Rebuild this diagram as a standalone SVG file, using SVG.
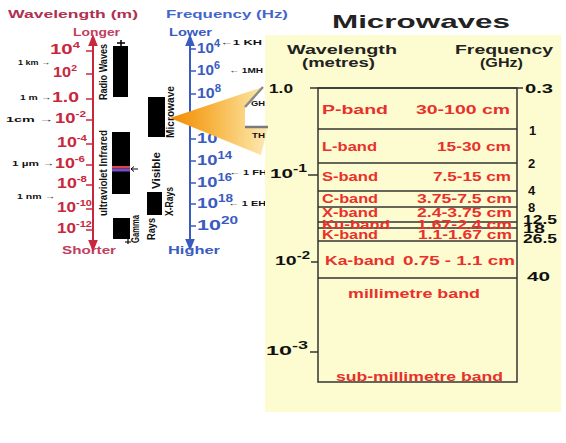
<svg xmlns="http://www.w3.org/2000/svg" width="566" height="443" viewBox="0 0 566 443">
<style>
text{font-family:"Liberation Sans",Arial,sans-serif;font-weight:bold}
.wr{fill:#c8283c;font-size:14px}
.wb{fill:#3a5bc0;font-size:14px}
.hd1{fill:#b03050;font-size:11px}
.hd2{fill:#c04060;font-size:10px}
.hb1{fill:#4466cc;font-size:11px}
.hb2{fill:#3a5bc0;font-size:10px}
.sm{fill:#111;font-size:8px}
.vt{fill:#111;font-size:10px}
.bd{fill:#e8302c;font-size:12px}
.blk{fill:#111;font-size:13px}
.hdr{fill:#222;font-size:12px}
.ax{stroke-width:2;fill:none}
.ln{stroke:#333;stroke-width:1.5;fill:none}
</style>
<defs>
<marker id="ar" viewBox="0 0 10 10" refX="5" refY="5" markerWidth="6" markerHeight="6" orient="auto-start-reverse"><path d="M0,1 L10,5 L0,9 z" fill="#c8283c"/></marker>
<marker id="ab" viewBox="0 0 10 10" refX="5" refY="5" markerWidth="6" markerHeight="6" orient="auto-start-reverse"><path d="M0,1 L10,5 L0,9 z" fill="#3a5bc0"/></marker>
<linearGradient id="cone" x1="0" y1="0" x2="1" y2="0">
<stop offset="0" stop-color="#f28a00"/>
<stop offset="0.4" stop-color="#f7b13c"/>
<stop offset="0.8" stop-color="#fbd98c"/>
<stop offset="1" stop-color="#fde9b8"/>
</linearGradient>
</defs>

<g id="wavelength-axis">
<text class="hd1" x="8" y="18" textLength="130" lengthAdjust="spacingAndGlyphs">Wavelength (m)</text>
<text class="hd2" x="73" y="36" textLength="47" lengthAdjust="spacingAndGlyphs">Longer</text>
<text class="hd2" x="62" y="254" textLength="54" lengthAdjust="spacingAndGlyphs">Shorter</text>
<line class="ax" x1="93" y1="246" x2="93" y2="40" stroke="#c8283c" marker-start="url(#ar)" marker-end="url(#ar)"/>
<g stroke="#c8283c" stroke-width="1.5">
<line x1="86" y1="51" x2="93" y2="51"/><line x1="86" y1="74" x2="93" y2="74"/><line x1="86" y1="99" x2="93" y2="99"/><line x1="86" y1="120" x2="93" y2="120"/><line x1="86" y1="144" x2="93" y2="144"/><line x1="86" y1="165" x2="93" y2="165"/><line x1="86" y1="185" x2="93" y2="185"/><line x1="86" y1="209" x2="93" y2="209"/><line x1="86" y1="230" x2="93" y2="230"/>
</g>
<text class="wr" x="50" y="54" textLength="30" lengthAdjust="spacingAndGlyphs">10<tspan dy="-6" font-size="9">4</tspan></text>
<text class="wr" x="53" y="77" textLength="24" lengthAdjust="spacingAndGlyphs">10<tspan dy="-6" font-size="9">2</tspan></text>
<text class="wr" x="52" y="102" textLength="27" lengthAdjust="spacingAndGlyphs">1.0</text>
<text class="wr" x="55" y="123" textLength="31" lengthAdjust="spacingAndGlyphs">10<tspan dy="-6" font-size="9">-2</tspan></text>
<text class="wr" x="57" y="147" textLength="30" lengthAdjust="spacingAndGlyphs">10<tspan dy="-6" font-size="9">-4</tspan></text>
<text class="wr" x="55" y="168" textLength="30" lengthAdjust="spacingAndGlyphs">10<tspan dy="-6" font-size="9">-6</tspan></text>
<text class="wr" x="57" y="188" textLength="30" lengthAdjust="spacingAndGlyphs">10<tspan dy="-6" font-size="9">-8</tspan></text>
<text class="wr" x="57" y="212" textLength="35" lengthAdjust="spacingAndGlyphs">10<tspan dy="-6" font-size="9">-10</tspan></text>
<text class="wr" x="57" y="233" textLength="35" lengthAdjust="spacingAndGlyphs">10<tspan dy="-6" font-size="9">-12</tspan></text>
<text class="sm" x="18" y="65" textLength="32" lengthAdjust="spacingAndGlyphs">1 km →</text>
<text class="sm" x="20" y="100" textLength="31" lengthAdjust="spacingAndGlyphs">1 m →</text>
<text class="sm" x="6" y="122" textLength="47" lengthAdjust="spacingAndGlyphs">1cm →</text>
<text class="sm" x="12" y="166" textLength="42" lengthAdjust="spacingAndGlyphs">1 µm →</text>
<text class="sm" x="17" y="199" textLength="38" lengthAdjust="spacingAndGlyphs">1 nm →</text>
</g>

<g id="spectrum-bands">
<rect x="113" y="46" width="15" height="51" fill="#000"/>
<path d="M121,40 V46 M117,43 H125" stroke="#000" stroke-width="1.5"/>
<text class="vt" transform="translate(107,100) rotate(-90)" textLength="56" lengthAdjust="spacingAndGlyphs">Radio Waves</text>
<rect x="112" y="132" width="18" height="62" fill="#000"/>
<rect x="112" y="166" width="18" height="2.5" fill="#e04050"/>
<rect x="112" y="168.5" width="18" height="3" fill="#7050c8"/>
<path d="M138,169 H131 M134,166.5 L131,169 L134,171.5" stroke="#000" stroke-width="1" fill="none"/>
<text class="vt" transform="translate(107,216) rotate(-90)" textLength="86" lengthAdjust="spacingAndGlyphs">ultraviolet Infrared</text>
<rect x="113" y="218" width="17" height="21" fill="#000"/>
<path d="M128,239 V244 M125,242 H131" stroke="#000" stroke-width="1.2"/>
<text class="vt" transform="translate(139,243) rotate(-90)" textLength="28" lengthAdjust="spacingAndGlyphs">Gamma</text>
<text class="vt" transform="translate(155,240) rotate(-90)" textLength="22" lengthAdjust="spacingAndGlyphs">Rays</text>
<rect x="148" y="97" width="17" height="40" fill="#000"/>
<text class="vt" transform="translate(174,138) rotate(-90)" textLength="52" lengthAdjust="spacingAndGlyphs">Microwave</text>
<text class="vt" transform="translate(160,189) rotate(-90)" textLength="37" lengthAdjust="spacingAndGlyphs">Visible</text>
<rect x="147" y="192" width="15" height="23" fill="#000"/>
<text class="vt" transform="translate(173,216) rotate(-90)" textLength="29" lengthAdjust="spacingAndGlyphs">X-Rays</text>
</g>

<g id="frequency-axis">
<text class="hb1" x="166" y="18" textLength="122" lengthAdjust="spacingAndGlyphs">Frequency (Hz)</text>
<text class="hb2" x="169" y="36" textLength="43" lengthAdjust="spacingAndGlyphs">Lower</text>
<text class="hb2" x="168" y="254" textLength="52" lengthAdjust="spacingAndGlyphs">Higher</text>
<line class="ax" x1="190" y1="40" x2="190" y2="245" stroke="#3a5bc0" marker-start="url(#ab)" marker-end="url(#ab)"/>
<g stroke="#3a5bc0" stroke-width="1.5">
<line x1="190" y1="49" x2="196" y2="49"/><line x1="190" y1="71" x2="196" y2="71"/><line x1="190" y1="94" x2="196" y2="94"/><line x1="190" y1="116" x2="196" y2="116"/><line x1="190" y1="139" x2="196" y2="139"/><line x1="190" y1="161" x2="196" y2="161"/><line x1="190" y1="183" x2="196" y2="183"/><line x1="190" y1="204" x2="196" y2="204"/><line x1="190" y1="226" x2="196" y2="226"/>
</g>
<text class="wb" x="197" y="53" textLength="23" lengthAdjust="spacingAndGlyphs">10<tspan dy="-6" font-size="10">4</tspan></text>
<text class="wb" x="197" y="75" textLength="23" lengthAdjust="spacingAndGlyphs">10<tspan dy="-6" font-size="10">6</tspan></text>
<text class="wb" x="197" y="98" textLength="24" lengthAdjust="spacingAndGlyphs">10<tspan dy="-6" font-size="10">8</tspan></text>
<text class="wb" x="197" y="120" textLength="35" lengthAdjust="spacingAndGlyphs">10<tspan dy="-6" font-size="10">10</tspan></text>
<text class="wb" x="197" y="143" textLength="35" lengthAdjust="spacingAndGlyphs">10<tspan dy="-6" font-size="10">12</tspan></text>
<text class="wb" x="197" y="165" textLength="35" lengthAdjust="spacingAndGlyphs">10<tspan dy="-6" font-size="10">14</tspan></text>
<text class="wb" x="197" y="187" textLength="35" lengthAdjust="spacingAndGlyphs">10<tspan dy="-6" font-size="10">16</tspan></text>
<text class="wb" x="197" y="208" textLength="36" lengthAdjust="spacingAndGlyphs">10<tspan dy="-6" font-size="10">18</tspan></text>
<text class="wb" x="197" y="230" textLength="41" lengthAdjust="spacingAndGlyphs">10<tspan dy="-6" font-size="10">20</tspan></text>
<text class="sm" x="220" y="45" textLength="42" lengthAdjust="spacingAndGlyphs">←1 KH</text>
<text class="sm" x="229" y="73" textLength="34" lengthAdjust="spacingAndGlyphs">← 1MH</text>
<text class="sm" x="229" y="175" textLength="38" lengthAdjust="spacingAndGlyphs">← 1 FH</text>
<text class="sm" x="228" y="206" textLength="38" lengthAdjust="spacingAndGlyphs">← 1 EH</text>
</g>

<g id="microwave-panel">
<rect x="265" y="35" width="296" height="377" fill="#fdfcd0"/>
<text x="332" y="28" font-size="19" fill="#222" textLength="178" lengthAdjust="spacingAndGlyphs">Microwaves</text>
<text class="hdr" x="287" y="54" textLength="110" lengthAdjust="spacingAndGlyphs">Wavelength</text>
<text class="hdr" x="302" y="67" textLength="73" lengthAdjust="spacingAndGlyphs">(metres)</text>
<text class="hdr" x="455" y="54" textLength="98" lengthAdjust="spacingAndGlyphs">Frequency</text>
<text class="hdr" x="480" y="67" textLength="43" lengthAdjust="spacingAndGlyphs">(GHz)</text>
<rect class="ln" x="318" y="88" width="199" height="294"/>
<g class="ln">
<line x1="310" y1="88" x2="523" y2="88"/>
<line x1="318" y1="129" x2="517" y2="129"/>
<line x1="318" y1="163" x2="517" y2="163"/>
<line x1="318" y1="191" x2="517" y2="191"/>
<line x1="318" y1="207" x2="517" y2="207"/>
<line x1="318" y1="222" x2="517" y2="222"/>
<line x1="318" y1="228" x2="517" y2="228"/>
<line x1="318" y1="241" x2="517" y2="241"/>
<line x1="318" y1="278" x2="517" y2="278"/>
<line x1="308" y1="175" x2="318" y2="175"/>
<line x1="311" y1="262" x2="318" y2="262"/>
<line x1="310" y1="352" x2="318" y2="352"/>
</g>
<text class="blk" x="269" y="93" textLength="24" lengthAdjust="spacingAndGlyphs">1.0</text>
<text class="blk" x="270" y="178" font-size="14" textLength="37" lengthAdjust="spacingAndGlyphs">10<tspan dy="-6" font-size="10">-1</tspan></text>
<text class="blk" x="275" y="265" font-size="14" textLength="35" lengthAdjust="spacingAndGlyphs">10<tspan dy="-6" font-size="10">-2</tspan></text>
<text class="blk" x="266" y="355" font-size="14" textLength="42" lengthAdjust="spacingAndGlyphs">10<tspan dy="-6" font-size="10">-3</tspan></text>
<text class="blk" x="525" y="93" textLength="28" lengthAdjust="spacingAndGlyphs">0.3</text>
<text class="blk" x="529" y="135">1</text>
<text class="blk" x="528" y="168">2</text>
<text class="blk" x="528" y="195">4</text>
<text class="blk" x="528" y="212">8</text>
<text class="blk" x="523" y="224" font-size="12" textLength="34" lengthAdjust="spacingAndGlyphs">12.5</text>
<text class="blk" x="523" y="233" font-size="12" textLength="22" lengthAdjust="spacingAndGlyphs">18</text>
<text class="blk" x="523" y="243" font-size="12" textLength="34" lengthAdjust="spacingAndGlyphs">26.5</text>
<text class="blk" x="527" y="281" textLength="23" lengthAdjust="spacingAndGlyphs">40</text>
<text class="bd" x="322" y="114" textLength="66" lengthAdjust="spacingAndGlyphs">P-band</text>
<text class="bd" x="416" y="114" textLength="94" lengthAdjust="spacingAndGlyphs">30-100 cm</text>
<text class="bd" x="322" y="151" textLength="55" lengthAdjust="spacingAndGlyphs">L-band</text>
<text class="bd" x="437" y="151" textLength="74" lengthAdjust="spacingAndGlyphs">15-30 cm</text>
<text class="bd" x="322" y="181" textLength="56" lengthAdjust="spacingAndGlyphs">S-band</text>
<text class="bd" x="433" y="181" textLength="78" lengthAdjust="spacingAndGlyphs">7.5-15 cm</text>
<text class="bd" x="322" y="203" textLength="56" lengthAdjust="spacingAndGlyphs">C-band</text>
<text class="bd" x="417" y="203" textLength="95" lengthAdjust="spacingAndGlyphs">3.75-7.5 cm</text>
<text class="bd" x="322" y="217" textLength="56" lengthAdjust="spacingAndGlyphs">X-band</text>
<text class="bd" x="417" y="217" textLength="95" lengthAdjust="spacingAndGlyphs">2.4-3.75 cm</text>
<text class="bd" x="322" y="229" textLength="68" lengthAdjust="spacingAndGlyphs">Ku-band</text>
<text class="bd" x="417" y="229" textLength="95" lengthAdjust="spacingAndGlyphs">1.67-2.4 cm</text>
<text class="bd" x="322" y="239" textLength="56" lengthAdjust="spacingAndGlyphs">K-band</text>
<text class="bd" x="418" y="239" textLength="94" lengthAdjust="spacingAndGlyphs">1.1-1.67 cm</text>
<text class="bd" x="325" y="265" font-size="13" textLength="70" lengthAdjust="spacingAndGlyphs">Ka-band</text>
<text class="bd" x="403" y="265" font-size="13" textLength="112" lengthAdjust="spacingAndGlyphs">0.75 - 1.1 cm</text>
<text class="bd" x="348" y="298" textLength="132" lengthAdjust="spacingAndGlyphs">millimetre band</text>
<text class="bd" x="336" y="381" textLength="167" lengthAdjust="spacingAndGlyphs">sub-millimetre band</text>
</g>

<g id="connectors">
<path d="M170,118 L263,87 L245,107 L245,127 L268,127 L261,155 Z" fill="url(#cone)"/>
<path d="M263,87 L245,107" stroke="#8a8a8a" stroke-width="2.5" fill="none"/>
<path d="M245,127 L268,127" stroke="#7a7a7a" stroke-width="2.5" fill="none"/>
<text class="sm" x="251" y="106" textLength="14" lengthAdjust="spacingAndGlyphs">GH</text>
<text class="sm" x="252" y="138" textLength="13" lengthAdjust="spacingAndGlyphs">TH</text>
</g>
</svg>
